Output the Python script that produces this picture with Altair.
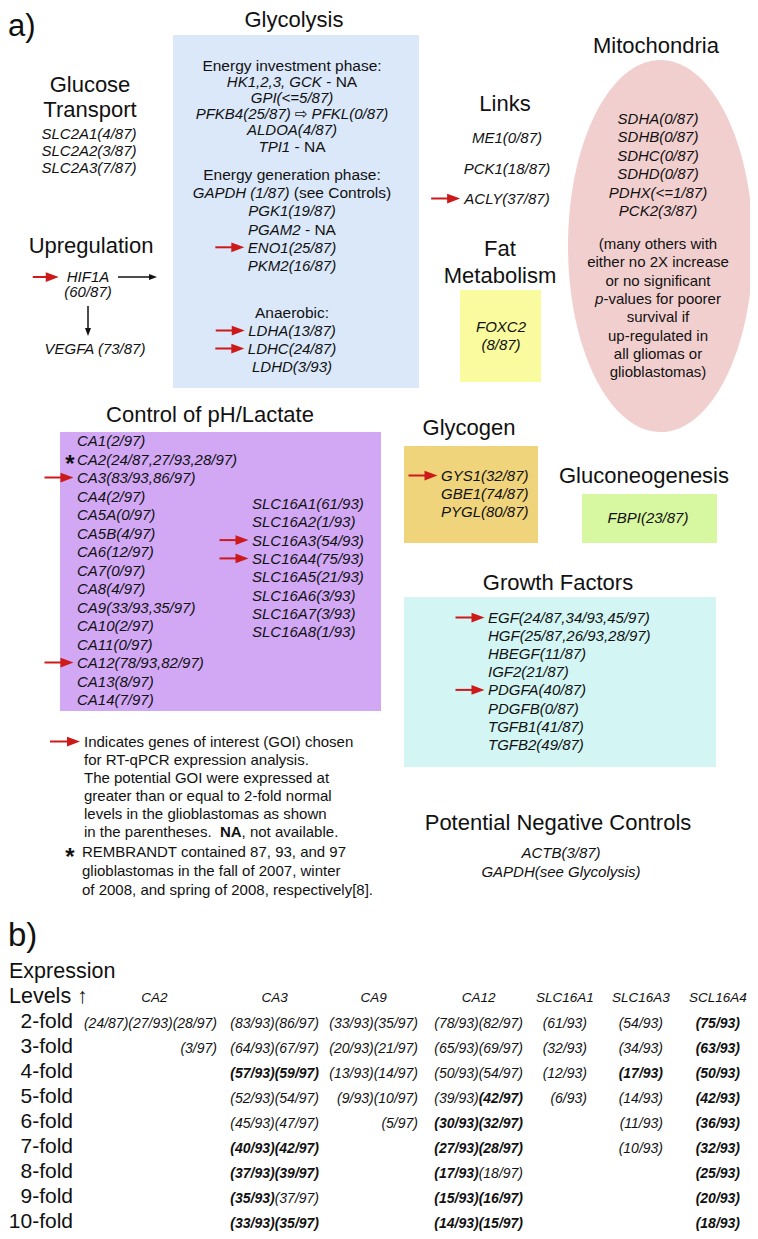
import altair as alt
import pandas as pd

# ======================= chart content (text only) =======================
PANEL_LABELS = ["a)", "b)"]

GLYCO_TITLE = "Glycolysis"
GLYCO_HEADS = ["Energy investment phase:", "Energy generation phase:", "Anaerobic:"]
GLYCO_INVEST = [("HK1,2,3, GCK", "- NA"), ("GPI(<=5/87)", ""),
                ("PFKB4(25/87) \u21e8 PFKL(0/87)", ""), ("ALDOA(4/87)", ""), ("TPI1", "- NA")]
GLYCO_GEN = [("GAPDH (1/87)", "(see Controls)"), ("PGK1(19/87)", ""), ("PGAM2", "- NA"),
             ("ENO1(25/87)", ""), ("PKM2(16/87)", "")]
GLYCO_ANAER = [("LDHA(13/87)", ""), ("LDHC(24/87)", ""), ("LDHD(3/93)", "")]

GLUCOSE_TITLE = ["Glucose", "Transport"]
GLUCOSE_GENES = ["SLC2A1(4/87)", "SLC2A2(3/87)", "SLC2A3(7/87)"]

UPREG_TITLE = "Upregulation"
UPREG_SOURCE = ["HIF1A", "(60/87)"]
UPREG_TARGET = "VEGFA (73/87)"

LINKS_TITLE = "Links"
LINKS_GENES = ["ME1(0/87)", "PCK1(18/87)", "ACLY(37/87)"]

MITO_TITLE = "Mitochondria"
MITO_GENES = ["SDHA(0/87)", "SDHB(0/87)", "SDHC(0/87)", "SDHD(0/87)", "PDHX(<=1/87)", "PCK2(3/87)"]
MITO_NOTE = [("", "(many others with"), ("", "either no 2X increase"), ("", "or no significant"),
             ("p", "-values for poorer"), ("", "survival  if"), ("", "up-regulated in"),
             ("", "all gliomas or"), ("", "glioblastomas)")]

FAT_TITLE = ["Fat", "Metabolism"]
FAT_GENES = ["FOXC2", "(8/87)"]

GLYCOGEN_TITLE = "Glycogen"
GLYCOGEN_GENES = ["GYS1(32/87)", "GBE1(74/87)", "PYGL(80/87)"]

GLUCONEO_TITLE = "Gluconeogenesis"
GLUCONEO_GENES = ["FBPI(23/87)"]

PH_TITLE = "Control of pH/Lactate"
CA_GENES = ["CA1(2/97)", "CA2(24/87,27/93,28/97)", "CA3(83/93,86/97)", "CA4(2/97)", "CA5A(0/97)",
            "CA5B(4/97)", "CA6(12/97)", "CA7(0/97)", "CA8(4/97)", "CA9(33/93,35/97)", "CA10(2/97)",
            "CA11(0/97)", "CA12(78/93,82/97)", "CA13(8/97)", "CA14(7/97)"]
SLC16_GENES = ["SLC16A1(61/93)", "SLC16A2(1/93)", "SLC16A3(54/93)", "SLC16A4(75/93)",
               "SLC16A5(21/93)", "SLC16A6(3/93)", "SLC16A7(3/93)", "SLC16A8(1/93)"]
STARRED = ["CA2(24/87,27/93,28/97)"]

GROWTH_TITLE = "Growth Factors"
GROWTH_GENES = ["EGF(24/87,34/93,45/97)", "HGF(25/87,26/93,28/97)", "HBEGF(11/87)", "IGF2(21/87)",
                "PDGFA(40/87)", "PDGFB(0/87)", "TGFB1(41/87)", "TGFB2(49/87)"]

NEG_TITLE = "Potential Negative Controls"
NEG_GENES = ["ACTB(3/87)", "GAPDH(see Glycolysis)"]

GOI = {"ENO1(25/87)", "LDHA(13/87)", "LDHC(24/87)", "HIF1A", "ACLY(37/87)", "GYS1(32/87)",
       "CA3(83/93,86/97)", "CA12(78/93,82/97)", "SLC16A3(54/93)", "SLC16A4(75/93)",
       "EGF(24/87,34/93,45/97)", "PDGFA(40/87)"}

LEGEND_GOI = ["Indicates genes of interest (GOI) chosen", "for RT-qPCR expression analysis.",
              "The potential GOI were expressed at", "greater than or equal to 2-fold normal",
              "levels in the glioblastomas as shown"]
LEGEND_GOI_LAST = ["in the parentheses.", "NA", ", not available."]
LEGEND_STAR = ["REMBRANDT contained 87, 93, and 97", "glioblastomas in the fall of 2007, winter",
               "of 2008, and spring of 2008, respectively[8]."]

# ---- panel b: counts of glioblastomas at each fold level ("*" = shown in bold)
B_AXIS_TITLE = ["Expression", "Levels \u2191"]
FOLD_LEVELS = ["2-fold", "3-fold", "4-fold", "5-fold", "6-fold", "7-fold", "8-fold", "9-fold", "10-fold"]
B_GENES = ["CA2", "CA3", "CA9", "CA12", "SLC16A1", "SLC16A3", "SCL16A4"]
CA2_CELLS = [["24/87", "27/93", "28/97"], ["", "", "3/97"]]
CA3_CELLS = [["83/93", "86/97"], ["64/93", "67/97"], ["*57/93", "*59/97"], ["52/93", "54/97"],
             ["45/93", "47/97"], ["*40/93", "*42/97"], ["*37/93", "*39/97"], ["*35/93", "37/97"],
             ["*33/93", "*35/97"]]
CA9_CELLS = [["33/93", "35/97"], ["20/93", "21/97"], ["13/93", "14/97"], ["9/93", "10/97"], ["", "5/97"]]
CA12_CELLS = [["78/93", "82/97"], ["65/93", "69/97"], ["50/93", "54/97"], ["39/93", "*42/97"],
              ["*30/93", "*32/97"], ["*27/93", "*28/97"], ["*17/93", "18/97"], ["*15/93", "*16/97"],
              ["*14/93", "*15/97"]]
SLC16A1_CELLS = [["61/93"], ["32/93"], ["12/93"], ["6/93"]]
SLC16A3_CELLS = [["54/93"], ["34/93"], ["*17/93"], ["14/93"], ["11/93"], ["10/93"]]
SCL16A4_CELLS = [["*75/93"], ["*63/93"], ["*50/93"], ["*42/93"], ["*36/93"], ["*32/93"],
                 ["*25/93"], ["*20/93"], ["*18/93"]]
B_CELLS = [CA2_CELLS, CA3_CELLS, CA9_CELLS, CA12_CELLS, SLC16A1_CELLS, SLC16A3_CELLS, SCL16A4_CELLS]

# ======================= styling / layout =======================
FONT = "Liberation Sans, Arial, DejaVu Sans, sans-serif"
INK = "#111111"
RED = "#cc1a1a"
BOX_COLORS = {"glyco": "#dbe8fa", "fat": "#fafa9e", "glycogen": "#f0d47c", "gluconeo": "#d8f7a1",
              "ph": "#d2a8f5", "growth": "#d3f6f4"}
MITO_FILL = "#f2cfcf"

TITLE = 22
BODY = 15.5
GENE = 15
NOTE = 15

AW = {' ': 278, '(': 333, ')': 333, '*': 389, ',': 278, '-': 333, '.': 278, '/': 278, ':': 278,
      '<': 584, '=': 584, '>': 584, '[': 278, ']': 278}
for d in "0123456789":
    AW[d] = 556
AW.update(dict(zip("ABCDEFGHIJKLMNOPQRSTUVWXYZ",
                   [667, 667, 722, 722, 667, 611, 778, 722, 278, 500, 667, 556, 833, 722, 778, 667,
                    778, 722, 667, 611, 722, 667, 944, 667, 667, 611])))
AW.update(dict(zip("abcdefghijklmnopqrstuvwxyz",
                   [556, 556, 500, 556, 556, 278, 556, 556, 222, 222, 500, 222, 833, 556, 556, 556,
                    556, 333, 500, 278, 556, 500, 722, 500, 500, 500])))
AWB = dict(AW)
AWB.update({"A": 722, "N": 722})


def tw(s, size, bold=False):
    tab = AWB if bold else AW
    return sum(tab.get(c, 600) for c in s) * size / 1000.0


texts, shafts, heads_r, heads_d = [], [], [], []


def put(x, y, s, size, style="normal", weight="normal", align="left", color=INK):
    if s.strip():
        texts.append(dict(x=x, y=y, text=s, size=size, fstyle=style, fweight=weight,
                          align=align, color=color))


def arrow_right(tip, y, length=29, color=RED, head=6.5, sw=2.0):
    shafts.append(dict(x=tip - length, x2=tip - 2 * head + 1, y=y, y2=y, color=color, sw=sw))
    heads_r.append(dict(x=tip - head, y=y, color=color, size=(2 * head) ** 2))


def arrow_down(x, y0, tip, color=INK, head=4.0, sw=1.5):
    shafts.append(dict(x=x, x2=x, y=y0, y2=tip - 2 * head + 1, color=color, sw=sw))
    heads_d.append(dict(x=x, y=tip - head, color=color, size=(2 * head) ** 2))


def gene_line(x, y, s, align="left", size=GENE):
    put(x, y, s, size, "italic", align=align)
    left = x if align == "left" else x - tw(s, size) / 2
    if s in GOI:
        arrow_right(left - 3.5, y - 5.5)
    return left


def mixed_center(cx, y, segs):
    """segs: list of (text, size, style, weight); laid out left to right, centred on cx."""
    widths = [tw(t, s, w == "bold") for t, s, st, w in segs]
    cur = cx - sum(widths) / 2
    for (t, s, st, w), wd in zip(segs, widths):
        put(cur, y, t, s, st, w)
        cur += wd


# ---------------- panel a ----------------
put(8, 36, PANEL_LABELS[0], 31)

# Glycolysis
GX = 292
put(294, 27, GLYCO_TITLE, TITLE, align="center")
blocks = [(GLYCO_HEADS[0], GLYCO_INVEST, 71, 16.1),
          (GLYCO_HEADS[1], GLYCO_GEN, 180, 18.2),
          (GLYCO_HEADS[2], GLYCO_ANAER, 318, 18.0)]
for head, lines, y0, step in blocks:
    put(GX, y0, head, BODY, align="center")
    for i, (ital, reg) in enumerate(lines):
        y = y0 + (i + 1) * step
        if reg:
            mixed_center(GX, y, [(ital, GENE, "italic", "normal"), (" ", BODY, "normal", "normal"),
                                 (reg, BODY, "normal", "normal")])
        else:
            gene_line(GX, y, ital, "center")

# Glucose transport
put(90, 92, GLUCOSE_TITLE[0], TITLE, align="center")
put(90, 117, GLUCOSE_TITLE[1], TITLE, align="center")
for i, g in enumerate(GLUCOSE_GENES):
    gene_line(89, 139 + i * 17, g, "center")

# Upregulation
put(91, 253, UPREG_TITLE, TITLE, align="center")
hl = gene_line(88, 282, UPREG_SOURCE[0], "center")
shafts.pop(); heads_r.pop()
arrow_right(hl - 8, 277, length=26)
arrow_right(157, 277, length=39, color=INK, head=4.0, sw=1.5)
put(88, 297, UPREG_SOURCE[1], GENE, "italic", align="center")
arrow_down(88, 306, 336)
put(95, 354, UPREG_TARGET, GENE, "italic", align="center")

# Links
put(505, 111, LINKS_TITLE, TITLE, align="center")
for i, g in enumerate(LINKS_GENES):
    gene_line(507, 143 + i * 30.5, g, "center")

# Mitochondria
put(656, 53, MITO_TITLE, TITLE, align="center")
for i, g in enumerate(MITO_GENES):
    gene_line(658, 124 + i * 18.4, g, "center")
for i, (ital, reg) in enumerate(MITO_NOTE):
    y = 249 + i * 18.3
    if ital:
        mixed_center(658, y, [(ital, NOTE, "italic", "normal"), (reg, NOTE, "normal", "normal")])
    else:
        put(658, y, reg, NOTE, align="center")

# Fat metabolism
put(500, 256, FAT_TITLE[0], TITLE, align="center")
put(500, 283, FAT_TITLE[1], TITLE, align="center")
put(501, 332, FAT_GENES[0], GENE, "italic", align="center")
put(501, 350, FAT_GENES[1], GENE, "italic", align="center")

# Glycogen
put(469, 435, GLYCOGEN_TITLE, TITLE, align="center")
for i, g in enumerate(GLYCOGEN_GENES):
    gene_line(441, 481 + i * 18, g)

# Gluconeogenesis
put(644, 483, GLUCONEO_TITLE, TITLE, align="center")
gene_line(648, 523, GLUCONEO_GENES[0], "center")

# Control of pH / lactate
put(210, 422, PH_TITLE, TITLE, align="center")
for i, g in enumerate(CA_GENES):
    y = 446 + i * 18.5
    gene_line(77, y, g)
    if g in STARRED:
        put(70, y - 6.5 + 14, "*", 24, weight="bold", align="center")
for i, g in enumerate(SLC16_GENES):
    gene_line(252, 509 + i * 18.3, g)

# Legend notes
for i, s in enumerate(LEGEND_GOI):
    put(84, 747 + i * 18, s, NOTE)
arrow_right(80, 741.5, length=30)
ly = 747 + 5 * 18
cx = 84
for j, (s, w) in enumerate(zip(LEGEND_GOI_LAST, ["normal", "bold", "normal"])):
    put(cx, ly, s, NOTE, weight=w)
    cx += tw(s, NOTE, w == "bold") + (tw("  ", NOTE) if j == 0 else 0)
put(70, 857 - 6.5 + 14, "*", 24, weight="bold", align="center")
for i, s in enumerate(LEGEND_STAR):
    put(82, 857 + i * 19, s, NOTE)

# Growth factors
put(558, 590, GROWTH_TITLE, TITLE, align="center")
for i, g in enumerate(GROWTH_GENES):
    gene_line(488, 623 + i * 18.1, g)

# Potential negative controls
put(558, 830, NEG_TITLE, TITLE, align="center")
for i, g in enumerate(NEG_GENES):
    gene_line(561, 858 + i * 19, g, "center")

# ---------------- panel b ----------------
put(8, 946, PANEL_LABELS[1], 33)
put(9, 978, B_AXIS_TITLE[0], 21.5)
put(9, 1003, B_AXIS_TITLE[1], 21.5)
ROW_Y0, ROW_STEP = 1027.5, 25
for i, lab in enumerate(FOLD_LEVELS):
    put(73, ROW_Y0 + i * ROW_STEP, lab, 21, align="right")
B_COL_RIGHT = [217, 319, 418, 523, 587, 663, 740]
CELL = 14
slot = tw("(00/00)", CELL)
for gi, gene in enumerate(B_GENES):
    rows = B_CELLS[gi]
    nsub = len(rows[0])
    right = B_COL_RIGHT[gi]
    put(right - nsub * slot / 2 + (4 if nsub == 3 else 0), 1002, gene, 13.5, "italic", align="center")
    for ri, parts in enumerate(rows):
        for pi, p in enumerate(parts):
            if not p:
                continue
            bold = p.startswith("*")
            xr = right - (nsub - 1 - pi) * slot
            put(xr, ROW_Y0 + ri * ROW_STEP, "(" + p.lstrip("*") + ")", CELL, "italic",
                "bold" if bold else "normal", "right")

# ---------------- shapes ----------------
boxes = pd.DataFrame([
    dict(x=173, x2=419, y=35, y2=388, color=BOX_COLORS["glyco"]),
    dict(x=460, x2=541, y=290, y2=382, color=BOX_COLORS["fat"]),
    dict(x=404, x2=538, y=446, y2=543, color=BOX_COLORS["glycogen"]),
    dict(x=582, x2=717, y=494, y2=543, color=BOX_COLORS["gluconeo"]),
    dict(x=60, x2=381, y=432, y2=711, color=BOX_COLORS["ph"]),
    dict(x=404, x2=716, y=597, y2=767, color=BOX_COLORS["growth"]),
])

MITO_CX, MITO_CY, MITO_RX, MITO_RY = 660.5, 246, 92.5, 186
a = MITO_RX / MITO_RY
k = 0.5523
ak = a * k
ELLIPSE = (f"M0,-1C{ak:.4f},-1,{a:.4f},{-k},{a:.4f},0C{a:.4f},{k},{ak:.4f},1,0,1"
           f"C{-ak:.4f},1,{-a:.4f},{k},{-a:.4f},0C{-a:.4f},{-k},{-ak:.4f},-1,0,-1Z")
ellipse_df = pd.DataFrame([dict(x=MITO_CX, y=MITO_CY)])

HEAD_RIGHT = "M1,0L-1,-0.75L-1,0.75Z"
HEAD_DOWN = "M0,1L-0.75,-1L0.75,-1Z"

XS = alt.Scale(domain=[8, 750], nice=False, zero=False)
YS = alt.Scale(domain=[8, 1231], reverse=True, nice=False, zero=False)
X = alt.X("x:Q", scale=XS, axis=None)
Y = alt.Y("y:Q", scale=YS, axis=None)
X2 = alt.X2("x2:Q")
Y2 = alt.Y2("y2:Q")

layers = []
layers.append(alt.Chart(boxes).mark_rect().encode(x=X, x2=X2, y=Y, y2=Y2,
                                                   color=alt.Color("color:N", scale=None)))
layers.append(alt.Chart(ellipse_df).mark_point(shape=ELLIPSE, filled=True, opacity=1, strokeWidth=0,
                                               size=(2 * MITO_RY) ** 2, color=MITO_FILL)
              .encode(x=X, y=Y))
layers.append(alt.Chart(pd.DataFrame(shafts)).mark_rule().encode(
    x=X, x2=X2, y=Y, y2=Y2, color=alt.Color("color:N", scale=None),
    strokeWidth=alt.StrokeWidth("sw:Q", scale=None)))
layers.append(alt.Chart(pd.DataFrame(heads_r)).mark_point(shape=HEAD_RIGHT, filled=True, opacity=1,
                                                          strokeWidth=0).encode(
    x=X, y=Y, color=alt.Color("color:N", scale=None), size=alt.Size("size:Q", scale=None)))
layers.append(alt.Chart(pd.DataFrame(heads_d)).mark_point(shape=HEAD_DOWN, filled=True, opacity=1,
                                                          strokeWidth=0).encode(
    x=X, y=Y, color=alt.Color("color:N", scale=None), size=alt.Size("size:Q", scale=None)))

tdf = pd.DataFrame(texts)
for (st, wt, al), g in tdf.groupby(["fstyle", "fweight", "align"]):
    layers.append(alt.Chart(g).mark_text(align=al, baseline="alphabetic", font=FONT,
                                         fontStyle=st, fontWeight=wt).encode(
        x=X, y=Y, text="text:N", size=alt.Size("size:Q", scale=None),
        color=alt.Color("color:N", scale=None)))

chart = (alt.layer(*layers)
         .properties(width=742, height=1223, padding=0, autosize=alt.AutoSizeParams(type="none"),
                     background="white")
         .configure_view(stroke=None))

chart.save("out.html", embed_options={"renderer": "svg", "actions": False})
